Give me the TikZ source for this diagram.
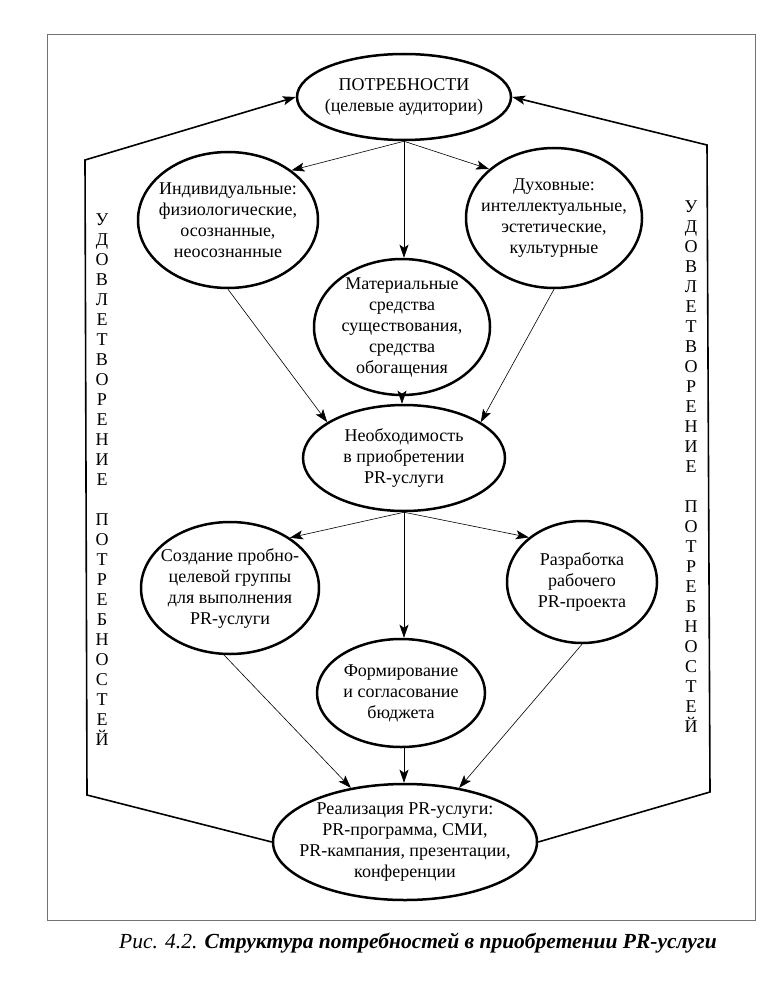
\documentclass[tikz,border=0pt]{standalone}
\usepackage{fontspec}
\setmainfont{Liberation Serif}
\usetikzlibrary{arrows.meta,shapes.geometric}
\begin{document}
\begin{tikzpicture}[x=1pt,y=-1pt,
  el/.style={draw,ellipse,line width=2.5pt,inner sep=-60pt,align=center,font=\fontsize{18}{21}\selectfont},
  mytip/.tip={Stealth[length=13pt,width=9pt,inset=3pt]},
  conn/.style={line width=0.6pt,-mytip},
  fb/.style={line width=1.6pt,-mytip},
  vt/.style={align=center,inner sep=0pt,font=\fontsize{18}{20}\selectfont},
  captext/.style={inner sep=0pt,font=\fontsize{21.5}{24}\selectfont}
]
\useasboundingbox (0,0) rectangle (780,995);
\fill[white] (0,0) rectangle (780,995);
\draw[black!55,line width=0.8pt] (47,34) rectangle (755,920);

\node[el,minimum width=214,minimum height=86] (top) at (404,97) {ПОТРЕБНОСТИ\\(целевые аудитории)};
\node[el,minimum width=180,minimum height=136] (ind) at (228,220) {Индивидуальные:\\физиологические,\\осознанные,\\неосознанные};
\node[el,minimum width=176,minimum height=140] (spir) at (554,218) {Духовные:\\интеллектуальные,\\эстетические,\\культурные};
\node[el,minimum width=176,minimum height=136] (mat) at (402,327) {Материальные\\средства\\существования,\\средства\\обогащения};
\node[el,minimum width=202,minimum height=106] (nec) at (404,458) {Необходимость\\в приобретении\\PR-услуги};
\node[el,minimum width=178,minimum height=132] (soz) at (230,588) {Создание пробно-\\целевой группы\\для выполнения\\PR-услуги};
\node[el,minimum width=150,minimum height=122] (raz) at (582,582) {Разработка\\рабочего\\PR-проекта};
\node[el,minimum width=168,minimum height=108] (form) at (401,693) {Формирование\\и согласование\\бюджета};
\node[el,minimum width=264,minimum height=116] (rea) at (405,842) {Реализация PR-услуги:\\PR-программа, СМИ,\\PR-кампания, презентации,\\конференции};

\draw[conn] (top.south) -- (ind.38);
\draw[conn] (top.south) -- (top.south |- mat.north);
\draw[conn] (top.south) -- (spir.143);
\draw[conn] (ind.south) -- (nec.155);
\draw[conn] (mat.south) -- (mat.south |- nec.north);
\draw[conn] (spir.south) -- (nec.25);
\draw[conn] (nec.south) -- (soz.40);
\draw[conn] (nec.south) -- (nec.south |- form.north);
\draw[conn] (nec.south) -- (raz.140);
\draw[conn] (soz.265) -- (rea.135);
\draw[conn] (nec.south |- form.south) -- (nec.south |- rea.north);
\draw[conn] (raz.south) -- (rea.45);

\coordinate (lb) at (87,795);
\coordinate (lt) at (85,160);
\coordinate (rb) at (710,792);
\coordinate (rt) at (707,145);
\draw[fb] (rea.west) -- (lb) -- (lt) -- (top.west);
\draw[fb] (rea.east) -- (rb) -- (rt) -- (top.east);

\node[vt] (lv) at (102,480) {У\\Д\\О\\В\\Л\\Е\\Т\\В\\О\\Р\\Е\\Н\\И\\Е\\ \\П\\О\\Т\\Р\\Е\\Б\\Н\\О\\С\\Т\\Е\\Й};
\node[vt] (rv) at (691,467) {У\\Д\\О\\В\\Л\\Е\\Т\\В\\О\\Р\\Е\\Н\\И\\Е\\ \\П\\О\\Т\\Р\\Е\\Б\\Н\\О\\С\\Т\\Е\\Й};

\node[captext] (caption) at (418,943) {\textit{Рис. 4.2.} \textbf{\textit{Структура потребностей в приобретении PR-услуги}}};
\end{tikzpicture}
\end{document}
